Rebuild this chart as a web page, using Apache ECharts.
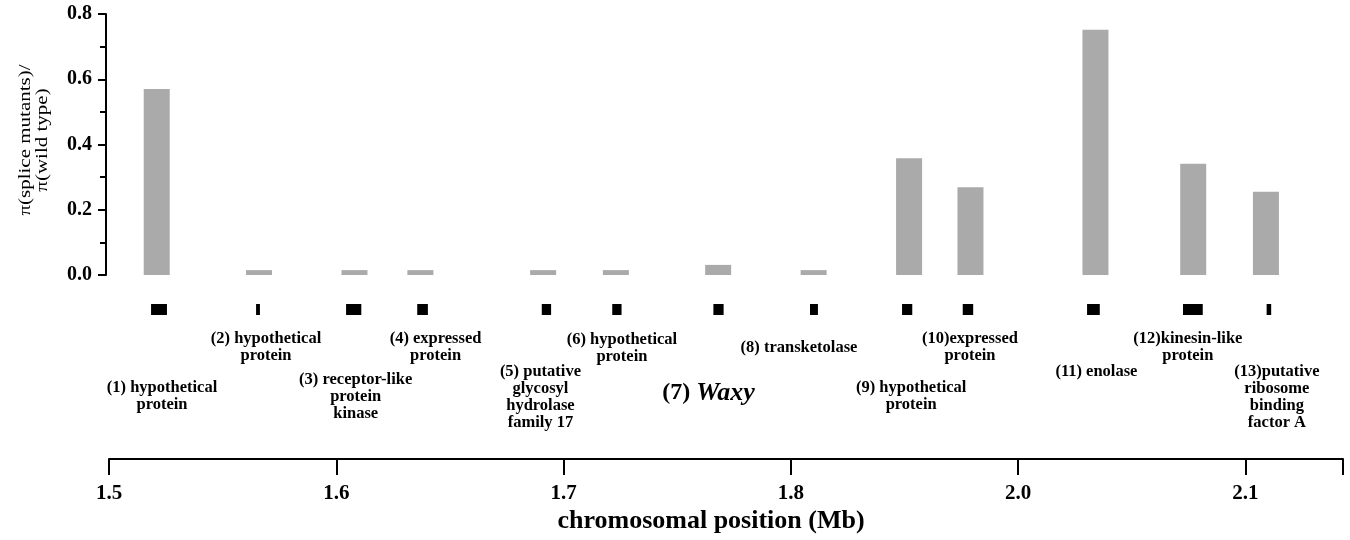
<!DOCTYPE html>
<html><head><meta charset="utf-8">
<script src="https://cdn.jsdelivr.net/npm/echarts@6/dist/echarts.min.js"></script>
<style>html,body{margin:0;padding:0;background:#fff}#c{width:1350px;height:540px}</style>
</head><body><div id="c"></div>
<script>
// ---- data (x in axis units of the drawn scale; tick labels as printed) ----
const xTickLabels = ['1.5', '1.6', '1.7', '1.8', '2.0', '2.1'];
const barPositions = [1.521, 1.566, 1.608, 1.637, 1.691, 1.723, 1.768, 1.810, 1.852, 1.879, 1.934, 1.977, 2.009];
const ratioValues  = [0.570, 0.015, 0.015, 0.015, 0.015, 0.015, 0.031, 0.015, 0.358, 0.269, 0.752, 0.341, 0.255];
const geneStart    = [1.5185, 1.5647, 1.6043, 1.6356, 1.6904, 1.7214, 1.7659, 1.8084, 1.8489, 1.8756, 1.9303, 1.9725, 2.0093];
const geneEnd      = [1.5255, 1.5664, 1.6110, 1.6403, 1.6945, 1.7255, 1.7704, 1.8119, 1.8534, 1.8802, 1.9359, 1.9812, 2.0113];
const geneNames = [
  '(1) hypothetical\nprotein',
  '(2) hypothetical\nprotein',
  '(3) receptor-like\nprotein\nkinase',
  '(4) expressed\nprotein',
  '(5) putative\nglycosyl\nhydrolase\nfamily 17',
  '(6) hypothetical\nprotein',
  '(7) Waxy',
  '(8) transketolase',
  '(9) hypothetical\nprotein',
  '(10)expressed\nprotein',
  '(11) enolase',
  '(12)kinesin-like\nprotein',
  '(13)putative\nribosome\nbinding\nfactor A'
];
const yTitle = 'π(splice mutants)/\nπ(wild type)';
const xTitle = 'chromosomal position (Mb)';
const X_MIN = 1.5, X_MAX = 2.0429, X_STEP = 0.1;

// ---- layout (label placement relative to gene mark) ----
const labelLayout = [
  {dx: 3, y: 98}, {dx: 8, y: 49}, {dx: 2, y: 90}, {dx: 13, y: 49}, {dx: -6, y: 82},
  {dx: 5, y: 50}, {dx: -10, y: 103}, {dx: -15, y: 58}, {dx: 4, y: 98}, {dx: 2, y: 49},
  {dx: 3, y: 82}, {dx: -5, y: 49}, {dx: 8, y: 82}
];
const SERIF = "'Liberation Serif', 'Times New Roman', serif";

const chart = echarts.init(document.getElementById('c'), null, {renderer: 'canvas'});
const barData = barPositions.map((x, i) => [x, ratioValues[i]]);
const geneData = geneStart.map((s, i) => [s, geneEnd[i], i]);

function xLabel(v) {
  const k = Math.round((v - X_MIN) / X_STEP);
  if (Math.abs(v - (X_MIN + k * X_STEP)) > 1e-6) return '';
  return xTickLabels[k] || '';
}

chart.setOption({
  animation: false,
  backgroundColor: '#fff',
  grid: [
    {left: 109, right: 7, top: 14, height: 261},
    {left: 109, right: 7, top: 290, height: 169}
  ],
  xAxis: [
    {gridIndex: 0, type: 'value', min: X_MIN, max: X_MAX, show: false},
    {gridIndex: 1, type: 'value', min: X_MIN, max: X_MAX, interval: X_STEP,
     axisLine: {show: true, lineStyle: {color: '#000', width: 2}},
     axisTick: {show: true, length: 16, lineStyle: {color: '#000', width: 2}},
     splitLine: {show: false},
     axisLabel: {formatter: xLabel, margin: 24, color: '#000', fontFamily: SERIF, fontWeight: 'bold', fontSize: 21}}
  ],
  yAxis: [
    {gridIndex: 0, type: 'value', min: 0, max: 0.8, interval: 0.2, offset: 3,
     axisLine: {show: true, lineStyle: {color: '#000', width: 2}},
     axisTick: {show: true, length: 8, lineStyle: {color: '#000', width: 2}},
     minorTick: {show: true, splitNumber: 2, length: 6, lineStyle: {color: '#000', width: 2}},
     splitLine: {show: false},
     axisLabel: {formatter: v => v.toFixed(1), margin: 14, color: '#000', fontFamily: SERIF, fontWeight: 'bold', fontSize: 20}},
    {gridIndex: 1, type: 'value', min: 0, max: 1, show: false}
  ],
  series: [
    {type: 'bar', xAxisIndex: 0, yAxisIndex: 0, data: barData, barWidth: 26,
     itemStyle: {color: '#aaaaaa'}},
    {type: 'custom', xAxisIndex: 1, yAxisIndex: 1, data: geneData,
     renderItem: function (params, api) {
       const i = api.value(2);
       const a = api.coord([api.value(0), 0]);
       const b = api.coord([api.value(1), 0]);
       const cs = params.coordSys;
       const cx = (a[0] + b[0]) / 2;
       const lay = labelLayout[i];
       const children = [{
         type: 'rect',
         shape: {x: a[0], y: cs.y + 14, width: Math.max(b[0] - a[0], 3), height: 11},
         style: {fill: '#000'}
       }];
       const name = geneNames[i];
       if (name.indexOf('Waxy') >= 0) {
         const parts = name.split(' ');
         children.push({
           type: 'text',
           style: {
             text: '{a|' + parts[0] + ' }{b|' + parts[1] + '}',
             x: cx + lay.dx, y: cs.y + lay.y, align: 'center', verticalAlign: 'middle',
             rich: {
               a: {fontFamily: SERIF, fontWeight: 'bold', fontSize: 24, fill: '#000', color: '#000'},
               b: {fontFamily: SERIF, fontWeight: 'bold', fontStyle: 'italic', fontSize: 26, fill: '#000', color: '#000'}
             }
           }
         });
       } else {
         children.push({
           type: 'text',
           style: {
             text: name, x: cx + lay.dx, y: cs.y + lay.y - 8.5,
             align: 'center', verticalAlign: 'top', lineHeight: 17,
             font: 'bold 16.5px ' + SERIF, fill: '#000'
           }
         });
       }
       return {type: 'group', children: children};
     }}
  ],
  graphic: [
    {type: 'text', x: 711, y: 521,
     style: {text: xTitle, align: 'center', verticalAlign: 'middle',
             font: 'bold 26px ' + SERIF, fill: '#000'}},
    {type: 'text', x: 33.5, y: 140, rotation: Math.PI / 2, scaleX: 1.2, scaleY: 1,
     style: {text: yTitle, align: 'center', verticalAlign: 'middle', lineHeight: 17,
             font: '17.5px ' + SERIF, fill: '#000'}}
  ]
});
</script>
</body></html>
